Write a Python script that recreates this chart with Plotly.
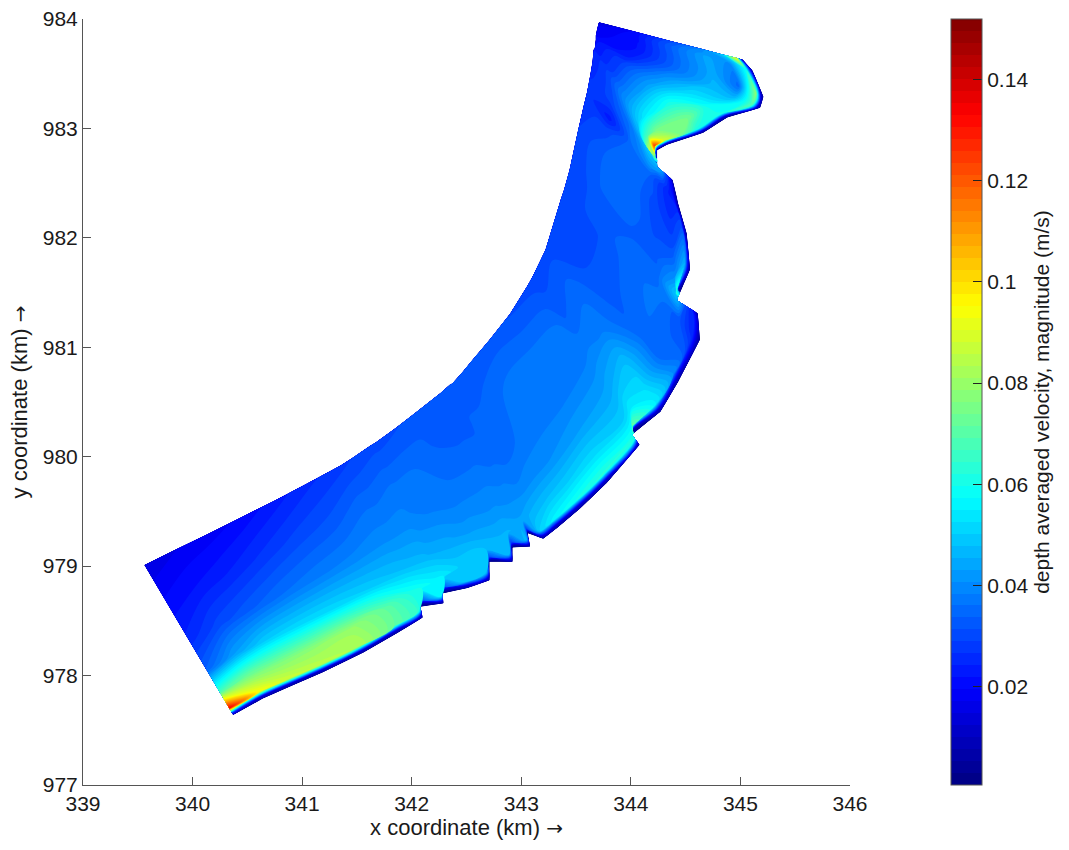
import plotly.graph_objects as go

# Grid stations along the coast, SW to NE (km)
offshore_x = [339.56,339.84,340.11,340.43,340.75,341.07,341.35,341.46,341.62,341.67,341.85,341.98,342.03,342.21,342.26,342.35,342.37,342.46,342.55,342.71,342.90,343.06,343.11,343.22,343.29,343.36,343.39,343.44,343.47,343.52,343.57,343.60,343.63,343.65,343.66,343.67,343.68,343.68,343.69,343.70,343.70,343.71]
offshore_y = [979.01,979.15,979.28,979.44,979.60,979.77,979.92,979.99,980.10,980.13,980.26,980.36,980.40,980.54,980.58,980.66,980.67,980.77,980.88,981.07,981.31,981.57,981.66,981.89,982.12,982.35,982.44,982.62,982.76,982.99,983.21,983.33,983.49,983.61,983.72,983.73,983.81,983.85,983.90,983.94,983.95,983.97]
# Coast with the small groynes left out: carries the open-water grid lines
outer_x = [340.37,340.64,340.89,341.19,341.56,341.87,342.10,342.19,342.32,342.40,342.53,342.71,342.79,342.92,342.99,343.08,343.13,343.20,343.33,343.54,343.78,344.08,344.17,344.27,344.43,344.63,344.61,344.57,344.54,344.51,344.43,344.42,344.38,344.27,344.24,344.33,344.66,344.88,345.18,345.21,345.11,345.02]
outer_y = [977.64,977.79,977.90,978.03,978.21,978.39,978.53,978.58,978.65,978.69,978.77,978.88,978.93,979.03,979.08,979.16,979.19,979.25,979.35,979.53,979.76,980.11,980.24,980.41,980.68,981.07,981.31,981.48,981.71,982.04,982.32,982.37,982.53,982.65,982.80,982.85,982.96,983.10,983.19,983.29,983.53,983.63]
# True jagged shoreline
shore_x = [340.37,340.64,340.89,341.19,341.56,341.87,342.10,342.08,342.29,342.28,342.51,342.71,342.71,342.92,342.92,343.08,343.06,343.20,343.33,343.54,343.78,344.08,344.01,344.27,344.43,344.63,344.61,344.42,344.54,344.51,344.43,344.42,344.38,344.24,344.24,344.33,344.66,344.88,345.18,345.21,345.11,345.02]
shore_y = [977.64,977.79,977.90,978.03,978.21,978.39,978.53,978.63,978.66,978.75,978.80,978.87,979.04,979.04,979.17,979.18,979.30,979.25,979.35,979.53,979.76,980.11,980.20,980.41,980.68,981.07,981.31,981.43,981.71,982.04,982.32,982.37,982.53,982.65,982.80,982.85,982.96,983.10,983.19,983.29,983.53,983.63]

# Cross-shore grid lines: fractions offshore->outer coast, then fractions from the last of those to the shoreline
open_levels = [0, .25, .5, .7, .85]
near_levels = [.7, .9, 1]

# Depth averaged velocity magnitude (m/s), one row per station
speed = [
 [.015,.020,.025,.034,.068,.135,.030,.008],
 [.017,.022,.030,.044,.075,.095,.014,.006],
 [.018,.024,.033,.050,.076,.088,.012,.005],
 [.020,.027,.036,.052,.078,.085,.012,.005],
 [.023,.030,.038,.052,.080,.083,.012,.005],
 [.026,.032,.039,.050,.072,.072,.012,.005],
 [.028,.035,.040,.048,.062,.064,.012,.005],
 [.029,.035,.040,.047,.060,.030,.008,.003],
 [.030,.036,.040,.046,.056,.055,.012,.005],
 [.030,.036,.039,.045,.055,.030,.008,.003],
 [.031,.036,.038,.044,.050,.050,.012,.006],
 [.032,.035,.037,.042,.050,.050,.012,.006],
 [.032,.034,.037,.042,.048,.028,.008,.003],
 [.032,.033,.037,.041,.046,.046,.012,.006],
 [.032,.033,.037,.041,.046,.028,.008,.003],
 [.032,.033,.036,.040,.044,.048,.012,.006],
 [.032,.034,.036,.040,.044,.028,.008,.003],
 [.032,.034,.035,.039,.046,.050,.012,.006],
 [.032,.035,.036,.040,.048,.056,.012,.006],
 [.032,.037,.037,.041,.050,.060,.012,.006],
 [.031,.037,.037,.043,.052,.063,.012,.006],
 [.030,.036,.038,.044,.050,.062,.012,.006],
 [.030,.033,.039,.046,.055,.072,.008,.003],
 [.030,.035,.038,.048,.052,.056,.012,.006],
 [.030,.031,.033,.035,.036,.042,.012,.006],
 [.030,.031,.035,.037,.032,.024,.010,.005],
 [.030,.032,.035,.035,.050,.022,.010,.004],
 [.029,.033,.033,.033,.040,.065,.012,.005],
 [.029,.034,.035,.031,.032,.046,.012,.005],
 [.029,.034,.036,.030,.026,.032,.010,.005],
 [.028,.030,.036,.034,.026,.022,.010,.004],
 [.028,.023,.036,.041,.030,.020,.008,.004],
 [.026,.030,.037,.050,.050,.020,.008,.004],
 [.025,.030,.038,.046,.090,.040,.010,.004],
 [.024,.030,.041,.050,.068,.125,.030,.005],
 [.022,.029,.042,.055,.075,.090,.015,.005],
 [.021,.029,.044,.062,.075,.060,.012,.005],
 [.019,.023,.040,.052,.058,.060,.012,.005],
 [.018,.022,.036,.046,.045,.070,.012,.005],
 [.017,.022,.036,.045,.035,.078,.012,.005],
 [.016,.021,.035,.044,.040,.060,.020,.005],
 [.014,.020,.030,.038,.050,.095,.020,.010],
]

x_ticks = [339,340,341,342,343,344,345,346]
y_ticks = [977,978,979,980,981,982,983,984]
bar_ticks = [0.02,0.04,0.06,0.08,0.1,0.12,0.14]
speed_min = 0.0005
speed_max = 0.152

jet = [[0,"rgb(0,0,128)"],[0.125,"rgb(0,0,255)"],[0.375,"rgb(0,255,255)"],
       [0.625,"rgb(255,255,0)"],[0.875,"rgb(255,0,0)"],[1,"rgb(128,0,0)"]]

def cross(off, outer, shore):
    rows = [[o+f*(c-o) for o,c in zip(off,outer)] for f in open_levels]
    base = rows[-1]
    rows += [[p+t*(s-p) for p,s in zip(base,shore)] for t in near_levels]
    return rows

grid_x = cross(offshore_x, outer_x, shore_x)
grid_y = cross(offshore_y, outer_y, shore_y)
n_levels = len(open_levels)+len(near_levels)
z = [[row[j] for row in speed] for j in range(n_levels)]
a = list(range(len(offshore_x)))
b = list(range(n_levels))

hidden = dict(showgrid=False, showline=False, showticklabels="none", startline=False, endline=False,
              minorgridcount=0, smoothing=0, gridcolor="rgba(0,0,0,0)", linecolor="rgba(0,0,0,0)",
              startlinecolor="rgba(0,0,0,0)", endlinecolor="rgba(0,0,0,0)")

font = "Liberation Sans, Arial, sans-serif"
ink = "#1a1a1a"
arrow = ' <span style="font-family:DejaVu Sans;font-size:20px">→</span>'
fig = go.Figure()
fig.add_trace(go.Carpet(a=a, b=b, x=grid_x, y=grid_y, carpet="c1", aaxis=hidden, baxis=hidden))
fig.add_trace(go.Contourcarpet(
    a=a, b=b, z=z, carpet="c1", colorscale=jet, zmin=speed_min, zmax=speed_max,
    autocontour=False,
    contours=dict(coloring="fill", start=speed_min, end=speed_max, size=(speed_max-speed_min)/64, showlines=False),
    line=dict(width=0),
    colorbar=dict(x=(951-83)/767, xanchor="left", xpad=0, y=0.5, len=1, ypad=0, thickness=31,
                  outlinecolor="#555555", outlinewidth=1,
                  tickvals=bar_ticks, tickformat=".2~f", ticksuffix="\u00a0\u00a0",
                  ticks="inside", ticklen=9, tickcolor="#222222",
                  tickfont=dict(family=font, size=21, color=ink),
                  title=dict(text="depth averaged velocity, magnitude (m/s)", side="right",
                             font=dict(family=font, size=21, color=ink)))))

shapes = [dict(type="line", xref="paper", yref="paper", x0=(951-83)/767, x1=(960-83)/767,
               y0=(v-speed_min)/(speed_max-speed_min), y1=(v-speed_min)/(speed_max-speed_min),
               line=dict(color="#222222", width=1)) for v in bar_ticks]

axis = dict(ticks="inside", ticklen=8, tickcolor="#555555", showline=True, linecolor="#555555", linewidth=1,
            automargin=False, showgrid=False, zeroline=False, mirror=False, tickfont=dict(family=font, size=21, color=ink))
fig.update_layout(
    width=1069, height=850, margin=dict(l=83, r=219, t=19, b=65), autosize=False,
    paper_bgcolor="white", plot_bgcolor="white", shapes=shapes,
    xaxis=dict(axis, range=[339,346], tickvals=x_ticks, title=dict(text="x coordinate (km)"+arrow, standoff=5, font=dict(family=font, size=22, color=ink))),
    yaxis=dict(axis, range=[977,984], tickvals=y_ticks, title=dict(text="y coordinate (km)"+arrow, standoff=9, font=dict(family=font, size=22, color=ink))),
)
fig.write_html("out.html", post_script="document.body.style.margin='0';", config={"displayModeBar": False})
